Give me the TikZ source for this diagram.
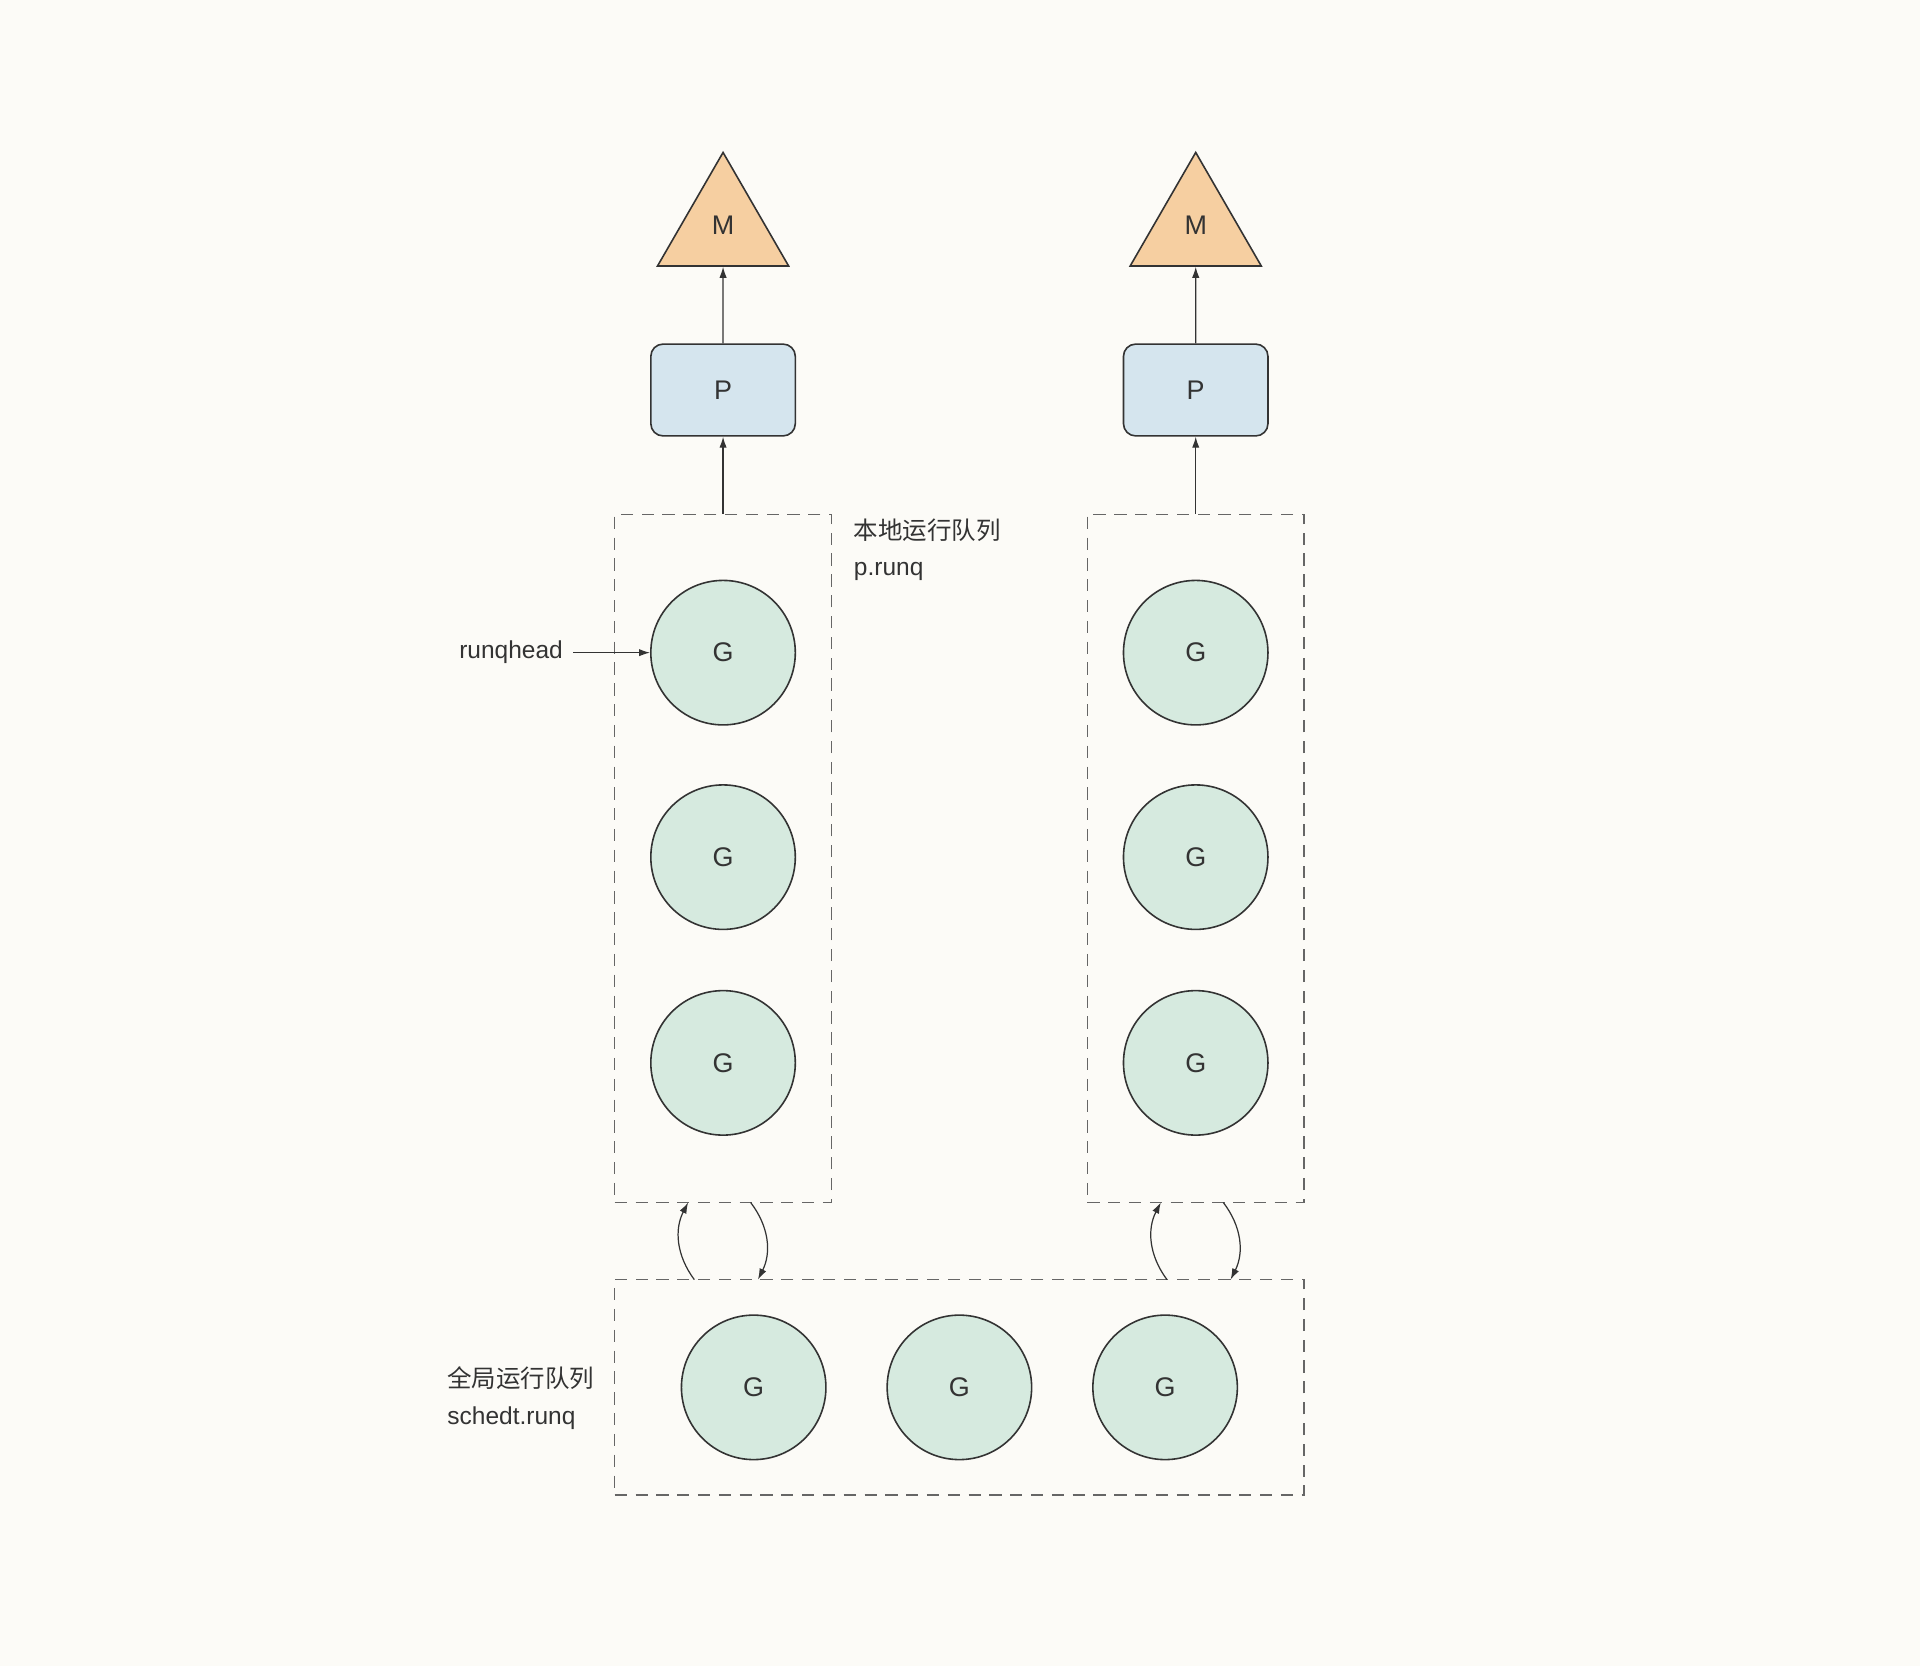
\documentclass[tikz,border=0pt]{standalone}
\usepackage{fontspec}
\setmainfont{Liberation Sans}
\newfontfamily\cjk{Noto Sans CJK SC}
\usetikzlibrary{shapes.geometric,arrows.meta}
\definecolor{bgc}{HTML}{FCFBF7}
\definecolor{mfill}{HTML}{F6CFA1}
\definecolor{pfill}{HTML}{D5E5EE}
\definecolor{gfill}{HTML}{D6EADF}
\definecolor{ink}{HTML}{333333}
\definecolor{dash}{HTML}{666666}
\tikzset{
  mnode/.style={regular polygon, regular polygon sides=3, draw=ink, fill=mfill, line width=0.65pt, inner sep=0pt, minimum size=61.8pt, font=\fontsize{11}{13}\selectfont, text=ink},
  pnode/.style={rectangle, rounded corners=5pt, draw=ink, fill=pfill, line width=0.65pt, minimum width=59pt, minimum height=37.5pt, inner sep=0pt, font=\fontsize{11}{13}\selectfont, text=ink},
  gnode/.style={circle, draw=ink, fill=gfill, line width=0.65pt, minimum size=59pt, inner sep=0pt, font=\fontsize{11}{13}\selectfont, text=ink},
  queue/.style={rectangle, draw=dash, dash pattern=on 5pt off 3.5pt, line width=0.6pt, inner sep=0pt},
  conn/.style={draw=ink, line width=0.5pt, -{Latex[length=4.5pt,width=3pt]}},
  lbl/.style={font=\fontsize{10}{15}\selectfont, text=ink, inner sep=0pt, align=left},
}
\begin{document}
\begin{tikzpicture}[x=0.5pt,y=-0.5pt]
\fill[bgc] (0,0) rectangle (1568,1360.5);
\useasboundingbox (0,0) rectangle (1568,1360.5);

% queues
\node[queue, minimum width=88.5pt, minimum height=281pt] (lq) at (590.5,701) {};
\node[queue, minimum width=88.5pt, minimum height=281pt] (rq) at (976.5,701) {};
\node[queue, minimum width=281.5pt, minimum height=88pt] (gq) at (783.5,1133) {};

% M and P
\node[mnode] (m1) at (590.5,186.3) {\raisebox{2pt}{M}};
\node[mnode] (m2) at (976.5,186.3) {\raisebox{2pt}{M}};
\node[pnode] (p1) at (590.5,318.5) {P};
\node[pnode] (p2) at (976.5,318.5) {P};

% G nodes
\node[gnode] (l1) at (590.5,533) {G};
\node[gnode] (l2) at (590.5,700) {G};
\node[gnode] (l3) at (590.5,868) {G};
\node[gnode] (r1) at (976.5,533) {G};
\node[gnode] (r2) at (976.5,700) {G};
\node[gnode] (r3) at (976.5,868) {G};
\node[gnode] (g1) at (615.5,1133) {G};
\node[gnode] (g2) at (783.5,1133) {G};
\node[gnode] (g3) at (951.5,1133) {G};

% labels
\node[lbl, anchor=west] (lql) at (697,449) {{\cjk 本地运行队列}\\p.runq};
\node[lbl, anchor=west] (gql) at (365,1142) {{\cjk 全局运行队列}\\schedt.runq};
\node[lbl, anchor=east] (rh) at (460,533) {runqhead};

% straight connectors
\draw[conn] (p1) -- (m1);
\draw[conn] (p2) -- (m2);
\draw[conn] (lq.north) -- (p1.south);
\draw[conn] (rq.north) -- (p2.south);
\draw[conn, shorten <=4pt] (rh.east) -- (l1.west);

% exchange arrows
\coordinate (a1) at (567,1045); \coordinate (b1) at (562,982);
\coordinate (c1) at (613,982);  \coordinate (d1) at (619,1045);
\coordinate (a2) at (953,1045); \coordinate (b2) at (948,982);
\coordinate (c2) at (999,982);  \coordinate (d2) at (1005,1045);
\draw[conn] (a1) to[bend left=32] (b1);
\draw[conn] (c1) to[bend left=32] (d1);
\draw[conn] (a2) to[bend left=32] (b2);
\draw[conn] (c2) to[bend left=32] (d2);
\end{tikzpicture}
\end{document}
